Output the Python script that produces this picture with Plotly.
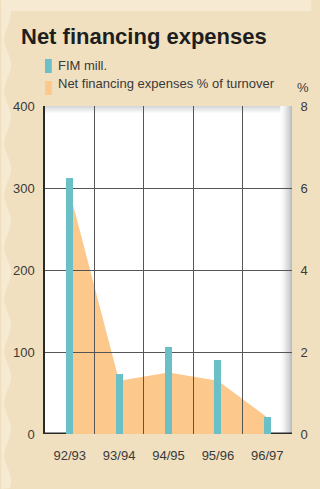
import math
import plotly.graph_objects as go

# Financial years and series
years = ["92/93", "93/94", "94/95", "95/96", "96/97"]
fim_mill = [312, 73, 106, 90, 21]
pct_turnover = [5.9, 1.3, 1.5, 1.3, 0.4]

left_ticks = [0, 100, 200, 300, 400]
right_ticks = [0, 2, 4, 6, 8]

TITLE = "Net financing expenses"
BAR_NAME = "FIM mill."
AREA_NAME = "Net financing expenses % of turnover"

BAR_COLOR = "#6BBFC6"
AREA_COLOR = "#FCC88C"
PAPER = "#F0E0C0"
LIGHT = "#F6EAD2"
GRID = "#555555"
TEXT = "#3A3A3A"
FONT = "Liberation Sans, Arial, sans-serif"

W, H = 320, 489
ML, MR, MT, MB = 45, 20, 106, 55
PW, PH = W - ML - MR, H - MT - MB


def px(x):
    return (x - ML) / PW


def py(y):
    return 1 - (y - MT) / PH


centers = [i + 0.5 for i in range(len(years))]
bounds = [i for i in range(1, len(years))]

fig = go.Figure()

# Percentage area (bottom subplot, right-hand scale)
fig.add_trace(go.Scatter(
    x=centers, y=pct_turnover, name=AREA_NAME, mode="lines",
    line=dict(width=0, color=AREA_COLOR), fill="tozeroy",
    fillcolor=AREA_COLOR, xaxis="x", yaxis="y", showlegend=False,
    hoverinfo="skip",
))

# FIM bars (top subplot, left-hand scale, carrying the grid)
fig.add_trace(go.Bar(
    x=centers, y=fim_mill, name=BAR_NAME, marker_color=BAR_COLOR,
    marker_line_width=0, width=0.14, xaxis="x2", yaxis="y2",
    showlegend=False,
))

tickfont = dict(family=FONT, size=13, color=TEXT)

shapes = []
# pale top strip and wavy left border of the page
shapes.append(dict(
    type="rect", xref="paper", yref="paper", layer="below",
    x0=px(0), x1=px(W), y0=py(11), y1=py(0),
    fillcolor=LIGHT, line_width=0,
))
wave = [(0, 0)]
for k in range(0, H + 1, 4):
    wave.append((6.5 + 3.5 * math.sin(k * 2 * math.pi / 52), k))
wave.append((0, H))
path = "M " + " L ".join(f"{px(x):.4f},{py(y):.4f}" for x, y in wave) + " Z"
shapes.append(dict(
    type="path", xref="paper", yref="paper", layer="below", path=path,
    fillcolor=LIGHT, line_width=0,
))

# white chart face
shapes.append(dict(
    type="rect", xref="paper", yref="paper", layer="below",
    x0=0, x1=1, y0=0, y1=1, fillcolor="#FFFFFF", line_width=0,
))
# soft shadow along the right and top edges of the chart frame
n = 12
for i in range(n):
    shapes.append(dict(
        type="rect", xref="paper", yref="paper", layer="below",
        x0=px(300 - n + i), x1=px(300 - n + i + 1), y0=0, y1=1,
        fillcolor="#8A8F96", opacity=((i + 1) / n) ** 1.5 * 0.6, line_width=0,
    ))
m = 7
for i in range(m):
    shapes.append(dict(
        type="rect", xref="paper", yref="paper", layer="below",
        x0=0, x1=px(300 - n), y0=py(MT + i + 1), y1=py(MT + i),
        fillcolor="#8A8F96", opacity=(m - i) / m * 0.35, line_width=0,
    ))
# baseline, drawn beneath the area and bars
shapes.append(dict(
    type="line", xref="paper", yref="paper", layer="below",
    x0=0, x1=1, y0=py(H - MB - 0.7), y1=py(H - MB - 0.7),
    line=dict(color="#2A2A2A", width=1.4),
))

# legend swatches
shapes.append(dict(type="rect", xref="paper", yref="paper",
                   x0=px(45), x1=px(52), y0=py(73), y1=py(59),
                   fillcolor=BAR_COLOR, line_width=0))
shapes.append(dict(type="rect", xref="paper", yref="paper",
                   x0=px(45), x1=px(52), y0=py(95), y1=py(81),
                   fillcolor=AREA_COLOR, line_width=0))

annotations = [
    dict(text=f"<b>{TITLE}</b>", xref="paper", yref="paper",
         x=px(18), y=py(37), xanchor="left", yanchor="middle",
         showarrow=False, font=dict(family=FONT, size=22, color="#1E1E1E")),
    dict(text=BAR_NAME, xref="paper", yref="paper",
         x=px(56), y=py(66), xanchor="left", yanchor="middle",
         showarrow=False, font=tickfont),
    dict(text=AREA_NAME, xref="paper", yref="paper",
         x=px(56), y=py(84), xanchor="left", yanchor="middle",
         showarrow=False, font=tickfont),
    dict(text="%", xref="paper", yref="paper",
         x=px(303), y=py(88), xanchor="left", yanchor="middle",
         showarrow=False, font=tickfont),
]

fig.update_layout(
    width=W, height=H,
    margin=dict(l=ML, r=MR, t=MT, b=MB, pad=0),
    paper_bgcolor=PAPER, plot_bgcolor="rgba(0,0,0,0)",
    showlegend=False, bargap=0,
    shapes=shapes, annotations=annotations,
    xaxis=dict(range=[0, len(years)], showgrid=False, showticklabels=False,
               zeroline=False, showline=False, fixedrange=True),
    yaxis=dict(range=[0, right_ticks[-1]], side="right", tickvals=right_ticks,
               showgrid=False, zeroline=False, showline=False,
               ticks="outside", ticklen=5, tickcolor="rgba(0,0,0,0)",
               tickfont=tickfont, fixedrange=True),
    xaxis2=dict(range=[0, len(years)], anchor="y2",
                tickvals=centers, ticktext=years, showgrid=False,
                ticks="outside", ticklen=9, tickcolor="rgba(0,0,0,0)",
                tickfont=tickfont, zeroline=False, showline=False,
                minor=dict(tickvals=bounds, showgrid=True, gridcolor=GRID,
                           gridwidth=1, ticks=""),
                fixedrange=True),
    yaxis2=dict(range=[0, left_ticks[-1]], anchor="x2", tickvals=left_ticks,
                showgrid=True, gridcolor=GRID, gridwidth=1, zeroline=False,
                showline=True, linecolor="#2A2A2A", linewidth=1.5,
                ticks="outside", ticklen=6, tickcolor="rgba(0,0,0,0)",
                tickfont=tickfont, fixedrange=True),
)

fig.write_html("out.html", config={"displayModeBar": False})
